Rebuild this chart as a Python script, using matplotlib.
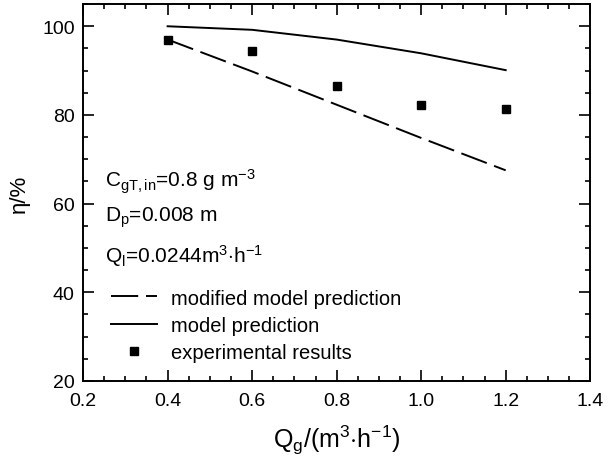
import numpy as np
import matplotlib.pyplot as plt
from matplotlib.ticker import MultipleLocator

plt.rcParams['font.family'] = ['Liberation Sans', 'DejaVu Sans']
plt.rcParams['mathtext.fontset'] = 'custom'
plt.rcParams['mathtext.rm'] = 'Liberation Sans'
plt.rcParams['mathtext.it'] = 'Liberation Sans'

# data
qg = [0.4, 0.6, 0.8, 1.0, 1.2]
model = [100.0, 99.2, 97.0, 93.9, 90.1]
modified = [97.0, 89.8, 82.3, 74.8, 67.5]
experiment = [97.0, 94.4, 86.5, 82.2, 81.4]

fig = plt.figure(figsize=(6.11, 4.64), dpi=100)
ax = fig.add_axes([0.136, 0.177, 0.830, 0.812])

ax.plot(qg, modified, color='black', lw=1.4, dashes=(14, 4), label='modified model prediction')
ax.plot(qg, model, color='black', lw=1.4, label='model prediction')
ax.plot(qg, experiment, 's', color='black', ms=6, ls='none', label='experimental results')

ax.set_xlim(0.2, 1.4)
ax.set_ylim(20, 105)
ax.set_yticks([20, 40, 60, 80, 100])
ax.xaxis.set_major_locator(MultipleLocator(0.2))
ax.xaxis.set_minor_locator(MultipleLocator(0.05))
ax.yaxis.set_minor_locator(MultipleLocator(5))
ax.tick_params(which='both', direction='in', top=True, right=True, labelsize=14, width=1.2)
ax.tick_params(which='major', length=8)
ax.tick_params(which='minor', length=3.5)
ax.tick_params(axis='y', pad=6)
ax.tick_params(axis='x', pad=8)
ax.set_xticklabels(['%.1f' % v for v in ax.get_xticks()])
for s in ax.spines.values():
    s.set_linewidth(1.4)

ax.set_xlabel(r'Q$_\mathregular{g}$/(m$^\mathregular{3}$$\cdot$h$^\mathregular{-1}$)', fontsize=18, labelpad=10)
ax.set_ylabel('η/%', fontsize=16, labelpad=9)

ax.text(0.252, 63.8, r'C$_\mathregular{gT,in}$=0.8 g m$^\mathregular{-3}$', fontsize=15, va='baseline')
ax.text(0.252, 56.1, r'D$_\mathregular{p}$=0.008 m', fontsize=15, va='baseline')
ax.text(0.252, 46.8, r'Q$_\mathregular{l}$=0.0244m$^\mathregular{3}$$\cdot$h$^\mathregular{-1}$', fontsize=15, va='baseline')

ax.legend(loc='center left', bbox_to_anchor=(0.055, 0.147), frameon=False, fontsize=14.5,
          handlelength=2.3, handletextpad=0.7, labelspacing=0.42, borderpad=0, borderaxespad=0)

fig.savefig('out.png', dpi=100)
